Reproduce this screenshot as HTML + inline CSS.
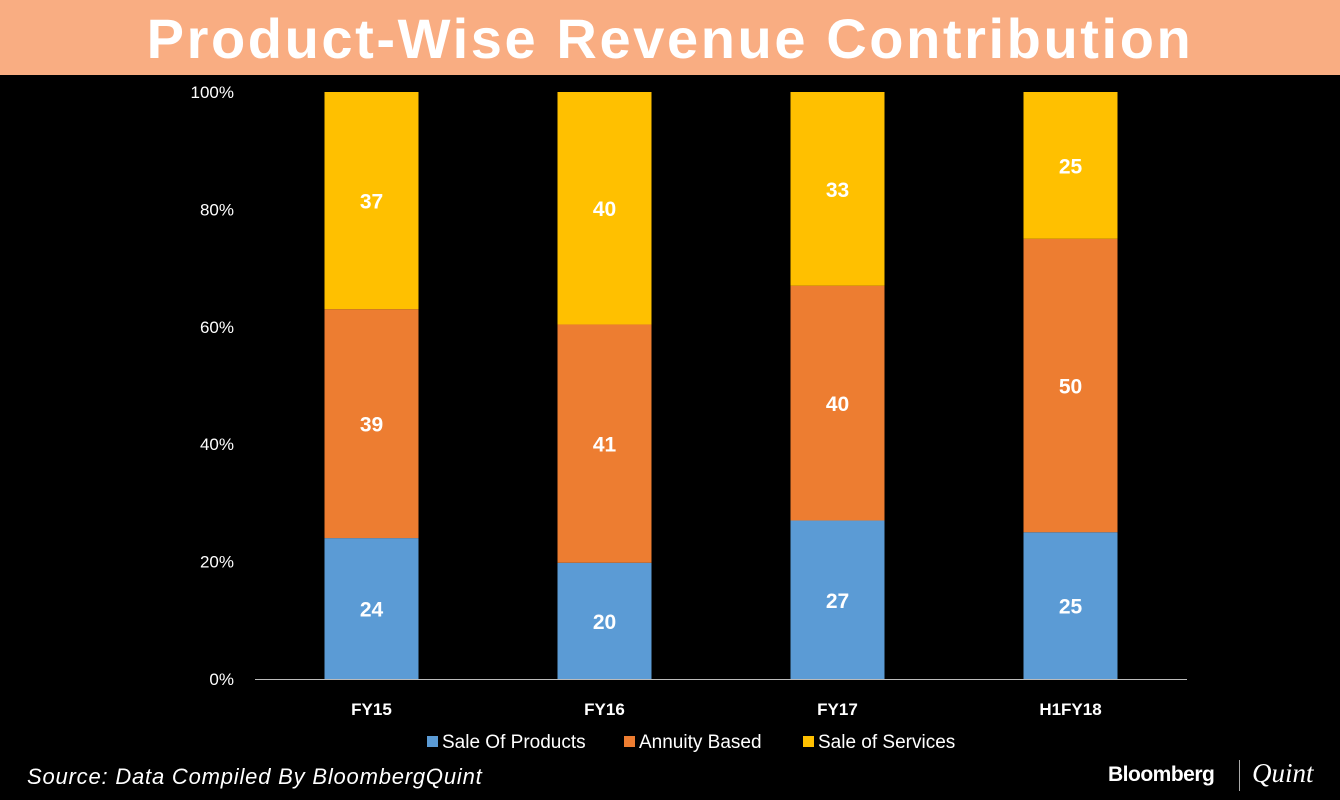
<!DOCTYPE html>
<html><head><meta charset="utf-8"><style>
body{margin:0;width:1340px;height:800px;background:#000;overflow:hidden;font-family:"Liberation Sans",sans-serif}
#title{position:absolute;left:0;top:0;width:1340px;height:75px;background:#F9AD82;color:#fff;font:bold 56px "Liberation Sans",sans-serif;text-align:center;line-height:78px;letter-spacing:2.6px}
svg{position:absolute;left:0;top:0}
</style></head><body>
<div id="title">Product-Wise Revenue Contribution</div>
<svg id="chart" width="1340" height="800"></svg>
<script>
const categories=["FY15","FY16","FY17","H1FY18"];
const seriesNames=["Sale Of Products","Annuity Based","Sale of Services"];
const saleOfProducts=[24,20,27,25];
const annuityBased=[39,41,40,50];
const saleOfServices=[37,40,33,25];
const colors=["#5B9BD5","#ED7D31","#FFC000"];
const yTicks=[0,20,40,60,80,100];
const series=[saleOfProducts,annuityBased,saleOfServices];
const NS="http://www.w3.org/2000/svg";
const svg=document.getElementById('chart');
const y0=679,y1=92,xL=255,xR=1187,bw=94;
const yScale=v=>y0-(v/100)*(y0-y1);
const xScale=i=>xL+(xR-xL)*(i+0.5)/categories.length;
function mk(tag,attrs,txt){const e=document.createElementNS(NS,tag);for(const k in attrs)e.setAttribute(k,attrs[k]);if(txt!==undefined)e.textContent=txt;svg.appendChild(e);return e;}
yTicks.forEach(t=>{
 const e=mk('text',{x:234,y:yScale(t)+6,'text-anchor':'end',fill:'#fff','font-size':17},t+'%');
 
 
});
categories.forEach((c,i)=>{
 const tot=series.reduce((s,a)=>s+a[i],0);
 let acc=0;
 series.forEach((arr,si)=>{
  const v=arr[i]/tot*100;
  const top=yScale(acc+v),bot=yScale(acc);
  const r=mk('rect',{x:xScale(i)-bw/2,y:top,width:bw,height:bot-top,fill:colors[si]});
  
  
  const l=mk('text',{x:xScale(i),y:(top+bot)/2+8,'text-anchor':'middle',fill:'#fff','font-size':21,'font-weight':'bold'},arr[i]);
  
  
  acc+=v;
 });
 const t=mk('text',{x:xScale(i),y:715,'text-anchor':'middle',fill:'#fff','font-size':17,'font-weight':'bold'},c);
 
 
});
const ax=mk('line',{x1:xL,x2:xR,y1:y0+0.5,y2:y0+0.5,stroke:'#bbb','stroke-width':1});


const legX=[427,624,803];
seriesNames.forEach((n,i)=>{
 const s=mk('rect',{x:legX[i],y:736,width:11,height:11,fill:colors[i]});
 
 
 const t=mk('text',{x:legX[i]+15,y:748,fill:'#fff','font-size':19},n);
 
 
});
const src=mk('text',{x:27,y:784,fill:'#fff','font-size':22,'font-style':'italic','letter-spacing':0.8},'Source: Data Compiled By BloombergQuint');


const b=mk('text',{x:1108,y:781,fill:'#fff','font-size':21,'font-weight':'bold','letter-spacing':-0.5},'Bloomberg');


const sep=mk('line',{x1:1239.5,x2:1239.5,y1:760,y2:791,stroke:'#aaa','stroke-width':1});


const q=mk('text',{x:1252,y:782,fill:'#fff','font-size':27,'font-style':'italic','font-family':'Liberation Serif, serif'},'Quint');


</script>
</body></html>
